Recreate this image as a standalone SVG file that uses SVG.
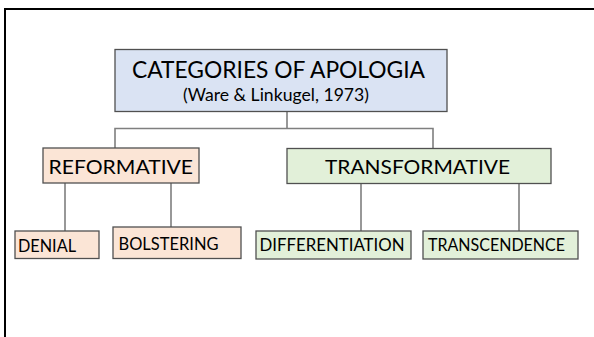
<svg xmlns="http://www.w3.org/2000/svg" width="594" height="337" viewBox="0 0 594 337">
  <style>
    .box { stroke: #505050; stroke-width: 1.3; }
    .root { fill: #DAE3F3; }
    .ref { fill: #FBE5D6; }
    .trf { fill: #E2F0D9; }
    .lbl { font-family: Lato, "Open Sans", "Liberation Sans", sans-serif; fill: #000000; text-anchor: start; }
    .small { font-size: 18px; }
    .conn { stroke: #7F7F7F; stroke-width: 1.6; fill: none; }
  </style>
  <rect width="594" height="337" fill="#ffffff"/>
  <!-- page frame -->
  <path d="M5 337 V9 H594" fill="none" stroke="#000000" stroke-width="2"/>

  <g id="connectors">
    <path class="conn" d="M287 111.5 V128.5 M115 148 V128.5 H433 V148.5"/>
    <path class="conn" d="M65 183 V231 M171 183 V227"/>
    <path class="conn" d="M361 183.5 V231 M519 183.5 V231"/>
  </g>

  <g id="categories">
    <rect class="box root" x="115" y="49.5" width="332" height="62"/>
    <text class="lbl" x="132" y="78" font-size="24" textLength="293" lengthAdjust="spacingAndGlyphs">CATEGORIES OF APOLOGIA</text>
    <text class="lbl" x="183" y="101" font-size="17" textLength="186" lengthAdjust="spacingAndGlyphs">(Ware &amp; Linkugel, 1973)</text>
  </g>

  <g id="reformative">
    <rect class="box ref" x="43" y="148" width="156" height="35"/>
    <text class="lbl" x="48.5" y="173.5" font-size="20" textLength="144.5" lengthAdjust="spacingAndGlyphs">REFORMATIVE</text>
  </g>

  <g id="transformative">
    <rect class="box trf" x="287" y="148.5" width="264" height="35"/>
    <text class="lbl" x="325" y="174" font-size="20" textLength="185" lengthAdjust="spacingAndGlyphs">TRANSFORMATIVE</text>
  </g>

  <g id="denial">
    <rect class="box ref" x="15" y="231" width="84" height="27.5"/>
    <text class="lbl small" x="18" y="251.5" textLength="58" lengthAdjust="spacingAndGlyphs">DENIAL</text>
  </g>

  <g id="bolstering">
    <rect class="box ref" x="113" y="227" width="128" height="31.5"/>
    <text class="lbl small" x="118.5" y="250" textLength="100" lengthAdjust="spacingAndGlyphs">BOLSTERING</text>
  </g>

  <g id="differentiation">
    <rect class="box trf" x="256" y="231" width="155" height="28"/>
    <text class="lbl small" x="259.5" y="251" textLength="145" lengthAdjust="spacingAndGlyphs">DIFFERENTIATION</text>
  </g>

  <g id="transcendence">
    <rect class="box trf" x="423" y="231" width="155" height="28"/>
    <text class="lbl small" x="428" y="251" textLength="137" lengthAdjust="spacingAndGlyphs">TRANSCENDENCE</text>
  </g>
</svg>
